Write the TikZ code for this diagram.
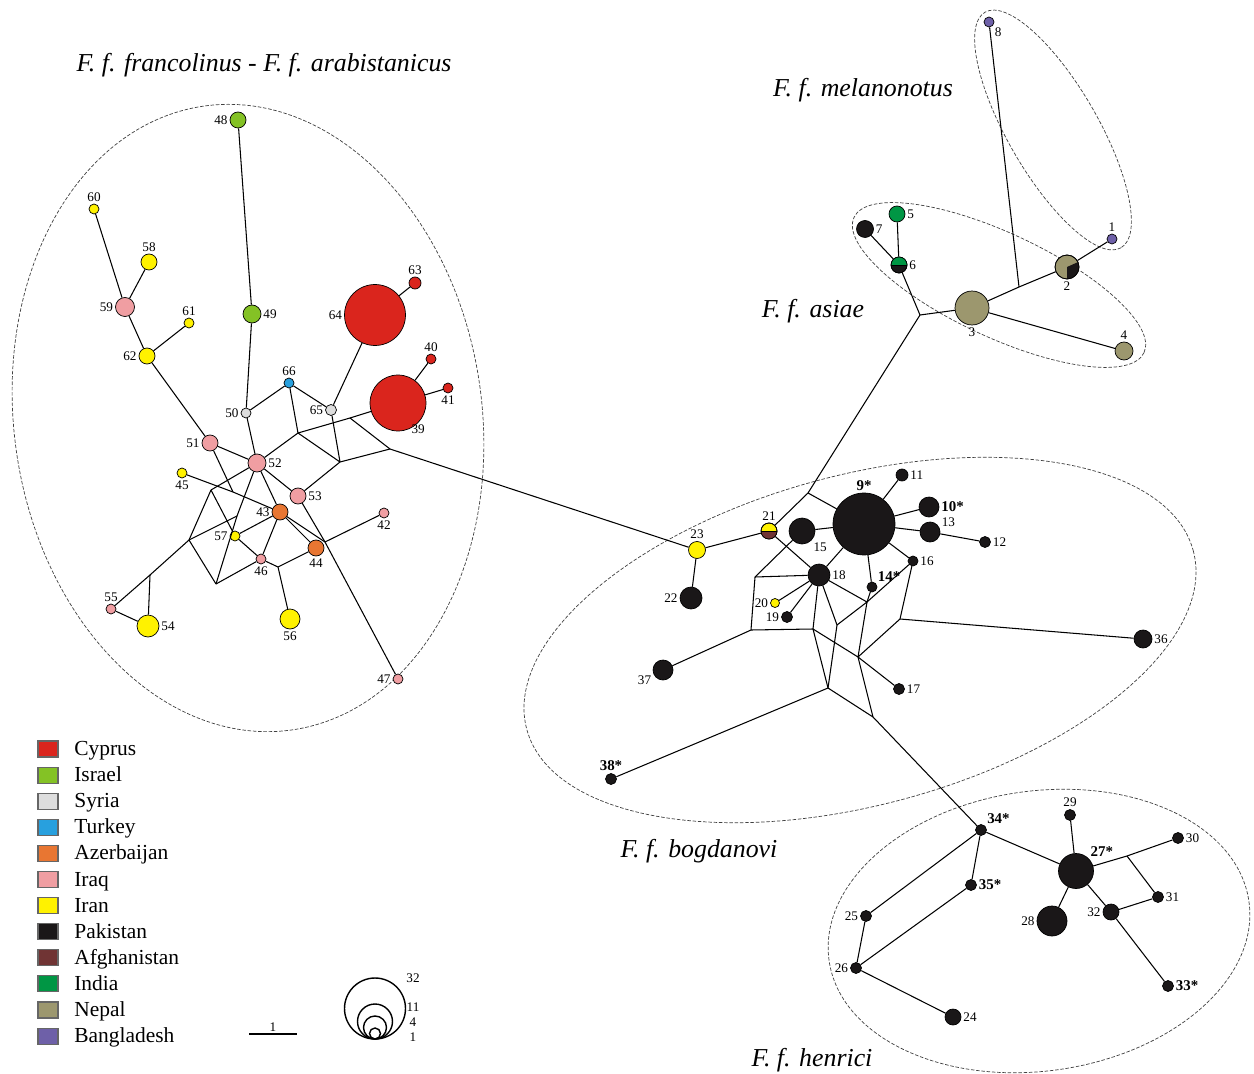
\documentclass[tikz,border=0pt]{standalone}
\usepackage{fontspec}
\setmainfont{Liberation Serif}

\definecolor{cyp}{RGB}{218,37,29}
\definecolor{isr}{RGB}{132,194,37}
\definecolor{syr}{RGB}{221,221,221}
\definecolor{tur}{RGB}{40,160,222}
\definecolor{aze}{RGB}{232,118,50}
\definecolor{irq}{RGB}{240,158,162}
\definecolor{irn}{RGB}{255,242,0}
\definecolor{pak}{RGB}{26,23,24}
\definecolor{afg}{RGB}{112,52,52}
\definecolor{ind}{RGB}{0,150,68}
\definecolor{nep}{RGB}{156,151,110}
\definecolor{ban}{RGB}{110,96,168}

\tikzset{
  hap/.style={circle, draw, line width=0.4pt, inner sep=0pt, fill=#1},
  hs/.style={minimum size=#1*0.04cm},
  num/.style={font=\fontsize{7.5}{9}\selectfont, inner sep=1pt},
  bnum/.style={font=\fontsize{8.5}{10}\selectfont\bfseries, inner sep=1pt},
  edge/.style={line width=0.6pt},
  grp/.style={dash pattern=on 2pt off 1pt, line width=0.4pt, black!75},
  title/.style={font=\fontsize{14.7}{17}\selectfont\itshape},
  legbox/.style={draw=black!60, line width=0.6pt, minimum width=0.4cm, minimum height=0.32cm, inner sep=0pt},
  legtxt/.style={font=\fontsize{12.2}{14}\selectfont, anchor=base west, inner sep=0pt}
}

\begin{document}
\begin{tikzpicture}[x=0.02cm, y=-0.02cm]
\useasboundingbox (0,0) rectangle (1254,1074);

\draw[grp, rotate around={8:(248,418)}] (248,418) ellipse [x radius=234, y radius=315];
\draw[grp, rotate around={15:(860,640)}] (860,640) ellipse [x radius=345, y radius=165];
\draw[grp, rotate around={-25:(999,285)}] (999,285) ellipse [x radius=160, y radius=52];
\draw[grp, rotate around={-60:(1053,130)}] (1053,130) ellipse [x radius=136, y radius=45];
\draw[grp, rotate around={8:(1039,931)}] (1039,931) ellipse [x radius=212, y radius=140];

\node[title] (tfran) at (264,65) {F. f. francolinus - F. f. arabistanicus};
\node[title] (tmel) at (863,90) {F. f. melanonotus};
\node[title] (tasi) at (813,311) {F. f. asiae};
\node[title] (tbog) at (699,851) {F. f. bogdanovi};
\node[title] (then) at (812,1060) {F. f. henrici};

% francolinus - arabistanicus
\node[hap=isr, hs=8, label={[num]left:48}] (h48) at (238,120) {};
\node[hap=isr, hs=9, label={[num]right:49}] (h49) at (252,314) {};
\node[hap=irn, hs=5, label={[num]above:60}] (h60) at (94,209) {};
\node[hap=irn, hs=8, label={[num]above:58}] (h58) at (149,262) {};
\node[hap=irq, hs=9.5, label={[num]left:59}] (h59) at (125,307) {};
\node[hap=irn, hs=5, label={[num]above:61}] (h61) at (189,323) {};
\node[hap=irn, hs=8, label={[num]left:62}] (h62) at (147,356) {};
\node[hap=cyp, hs=30.5, label={[num]left:64}] (h64) at (375,315) {};
\node[hap=cyp, hs=6, label={[num]above:63}] (h63) at (415,283) {};
\node[hap=cyp, hs=5, label={[num]above:40}] (h40) at (431,359) {};
\node[hap=cyp, hs=28, label={[num, label distance=-3pt]-60:39}] (h39) at (398,403) {};
\node[hap=cyp, hs=5, label={[num]below:41}] (h41) at (448,388) {};
\node[hap=tur, hs=5, label={[num]above:66}] (h66) at (289,383) {};
\node[hap=syr, hs=5, label={[num]left:50}] (h50) at (246,413) {};
\node[hap=syr, hs=5.5, label={[num]left:65}] (h65) at (331,410) {};
\node[hap=irq, hs=8, label={[num]left:51}] (h51) at (210,443) {};
\node[hap=irq, hs=9, label={[num]right:52}] (h52) at (257,463) {};
\node[hap=irn, hs=5, label={[num]below:45}] (h45) at (182,473) {};
\node[hap=irq, hs=8, label={[num]right:53}] (h53) at (298,496) {};
\node[hap=aze, hs=8, label={[num]left:43}] (h43) at (280,512) {};
\node[hap=irq, hs=5, label={[num]below:42}] (h42) at (384,513) {};
\node[hap=irn, hs=5, label={[num]left:57}] (h57) at (235,536) {};
\node[hap=aze, hs=8, label={[num]below:44}] (h44) at (316,548) {};
\node[hap=irq, hs=5, label={[num]below:46}] (h46) at (261,559) {};
\node[hap=irn, hs=10, label={[num]below:56}] (h56) at (290,619) {};
\node[hap=irq, hs=5, label={[num]above:55}] (h55) at (111,609) {};
\node[hap=irn, hs=11, label={[num]right:54}] (h54) at (148,626) {};
\node[hap=irq, hs=5, label={[num]left:47}] (h47) at (398,679) {};

\coordinate (a1) at (298,433);
\coordinate (a2) at (340,462);
\coordinate (a3) at (350,418);
\coordinate (a4) at (390,449);
\coordinate (a5) at (325,542);
\coordinate (a6) at (278,567);
\coordinate (a7) at (233,492);
\coordinate (a8) at (211,490);
\coordinate (a9) at (189,540);
\coordinate (a10) at (216,584);
\coordinate (a11) at (237,516);
\coordinate (a12) at (150,575);

% bogdanovi
\node[hap=pak, hs=31, label={[bnum]above:9*}] (h9) at (864,524) {};
\node[hap=pak, hs=6, label={[num]right:11}] (h11) at (902,475) {};
\node[hap=pak, hs=10, label={[bnum]right:10*}] (h10) at (929,507) {};
\node[hap=pak, hs=10, label={[num]20:13}] (h13) at (930,532) {};
\node[hap=pak, hs=5.5, label={[num]right:12}] (h12) at (985,542) {};
\node[hap=pak, hs=5, label={[num]right:16}] (h16) at (913,561) {};
\node[hap=pak, hs=5, label={[bnum]above right:14*}] (h14) at (872,587) {};
\node[hap=pak, hs=13, label={[num]below right:15}] (h15) at (802,531) {};
\node[hap=pak, hs=11, label={[num]right:18}] (h18) at (819,575) {};
\node[hap=irn, hs=8, label={[num]above:21}] (h21) at (769,531) {};
\node[hap=irn, hs=8.5, label={[num]above:23}] (h23) at (697,550) {};
\node[hap=pak, hs=11, label={[num]left:22}] (h22) at (691,598) {};
\node[hap=irn, hs=4.5, label={[num]left:20}] (h20) at (775,603) {};
\node[hap=pak, hs=5.5, label={[num]left:19}] (h19) at (787,617) {};
\node[hap=pak, hs=5.5, label={[num]right:17}] (h17) at (899,689) {};
\node[hap=pak, hs=9, label={[num]right:36}] (h36) at (1143,639) {};
\node[hap=pak, hs=10, label={[num]-160:37}] (h37) at (663,670) {};
\node[hap=pak, hs=5.5, label={[bnum]above:38*}] (h38) at (611,779) {};

\fill[afg] (h21.east) arc[start angle=0, end angle=-180, radius=0.16cm] -- cycle;
\draw[line width=0.4pt] (h21.west) -- (h21.east);
\draw[line width=0.4pt] (h21.center) circle[radius=0.16cm];

\coordinate (b1) at (808,493);
\coordinate (b2) at (755,577);
\coordinate (b3) at (751,630);
\coordinate (b4) at (813,629);
\coordinate (b5) at (837,625);
\coordinate (b6) at (867,602);
\coordinate (b7) at (858,657);
\coordinate (b8) at (900,619);
\coordinate (b9) at (828,688);
\coordinate (b10) at (873,717);

% asiae, melanonotus
\node[hap=ban, hs=5, label={[num]below right:8}] (h8) at (989,22) {};
\node[hap=ban, hs=5, label={[num]above:1}] (h1) at (1112,239) {};
\node[hap=ind, hs=8, label={[num]right:5}] (h5) at (897,214) {};
\node[hap=pak, hs=8.5, label={[num]right:7}] (h7) at (865,229) {};
\node[hap=pak, hs=8, label={[num]right:6}] (h6) at (899,265) {};
\node[hap=nep, hs=12, label={[num]below:2}] (h2) at (1067,267) {};
\node[hap=nep, hs=17, label={[num]below:3}] (h3) at (972,308) {};
\node[hap=nep, hs=9, label={[num]above:4}] (h4) at (1124,351) {};

\fill[ind] (h6.east) arc[start angle=0, end angle=180, radius=0.16cm] -- cycle;
\draw[line width=0.4pt] (h6.west) -- (h6.east);
\draw[line width=0.4pt] (h6.center) circle[radius=0.16cm];
\fill[pak] (h2.center) -- ++(24:0.24cm) arc[start angle=24, end angle=-90, radius=0.24cm] -- cycle;
\draw[line width=0.4pt] (h2.center) circle[radius=0.24cm];

\coordinate (c1) at (920,315);
\coordinate (c2) at (1019,287);

% henrici
\node[hap=pak, hs=5.5, label={[bnum]above right:34*}] (h34) at (981,830) {};
\node[hap=pak, hs=5.5, label={[num]above:29}] (h29) at (1070,815) {};
\node[hap=pak, hs=17.5, label={[bnum]above right:27*}] (h27) at (1076,871) {};
\node[hap=pak, hs=5.5, label={[num]right:30}] (h30) at (1178,838) {};
\node[hap=pak, hs=5.5, label={[num]right:31}] (h31) at (1158,897) {};
\node[hap=pak, hs=8, label={[num]left:32}] (h32) at (1111,912) {};
\node[hap=pak, hs=15, label={[num]left:28}] (h28) at (1052,921) {};
\node[hap=pak, hs=5.5, label={[bnum]right:33*}] (h33) at (1168,986) {};
\node[hap=pak, hs=5.5, label={[bnum]right:35*}] (h35) at (971,885) {};
\node[hap=pak, hs=5.5, label={[num]left:25}] (h25) at (866,916) {};
\node[hap=pak, hs=5.5, label={[num]left:26}] (h26) at (856,968) {};
\node[hap=pak, hs=8, label={[num]right:24}] (h24) at (953,1017) {};

\coordinate (d1) at (1127,856);

\foreach \a/\b in {h48/h49, h49/h50, h50/h66, h66/h65, h50/h52, h60/h59, h58/h59,
    h59/h62, h61/h62, h62/h51, h51/h52, h64/h63, h64/h65, h39/h40, h39/h41,
    h66/a1, a1/h52, a1/a2, h65/a2, a1/a3, a3/h39, a3/a4, a2/a4, a4/h23,
    a2/h53, h52/h53, h52/h43, h53/a5, a5/h47, h43/a5, a5/h42, h43/h44,
    h44/a6, a6/h56, a6/h46, h43/h46, h43/h57, h57/h46, h45/a7, a7/h43,
    h51/a7, h52/a8, a8/a9, a8/h57, a9/a11, a11/h52, a11/a10, a9/a10,
    a10/h46, a9/a12, a12/h55, a12/h54, h55/h54}
  \draw[edge] (\a) -- (\b);

\foreach \a/\b in {c1/b1, b1/h21, b1/h9, h23/h21, h21/h18, h23/h22, h15/h9,
    h15/b2, b2/h18, b2/b3, b3/b4, b3/h37, h18/h20, h18/h19, h18/b4, h18/b5,
    h18/b6, b5/b6, b6/h16, h14/b6, h9/h14, b6/b7, b4/b9, b5/b9, b4/b7,
    b7/h17, b7/b8, b8/h16, b8/h36, b9/b10, b7/b10, b9/h38, b10/h34,
    h9/h11, h9/h10, h9/h13, h13/h12, h9/h16, h9/h18}
  \draw[edge] (\a) -- (\b);

\foreach \a/\b in {h8/c2, h3/c2, c2/h2, h2/h1, h3/h4, c1/h3, h6/c1, h7/h6, h5/h6,
    h34/h27, h34/h25, h34/h35, h35/h26, h25/h26, h26/h24, h29/h27, h27/d1,
    d1/h30, d1/h31, h31/h32, h27/h32, h32/h33, h27/h28}
  \draw[edge] (\a) -- (\b);

% legend
\foreach \c/\t [count=\i from 0] in {cyp/Cyprus, isr/Israel, syr/Syria, tur/Turkey,
    aze/Azerbaijan, irq/Iraq, irn/Iran, pak/Pakistan, afg/Afghanistan,
    ind/India, nep/Nepal, ban/Bangladesh}
{
  \node[legbox, fill=\c] (box\i) at (48,749+26.1*\i) {};
  \node[legtxt] (lab\i) at (74,755.5+26.1*\i) {\t};
}

\coordinate (bar0) at (249,1034);
\coordinate (bar1) at (297,1034);
\draw[line width=1pt] (bar0) -- node[num, above] (barlab) {1} (bar1);

\node[circle, draw, line width=0.8pt, inner sep=0pt, minimum size=1.22cm] (ring32) at (375,1008.5) {};
\node[circle, draw, line width=0.8pt, inner sep=0pt, minimum size=0.70cm] (ring11) at (375,1021.5) {};
\node[circle, draw, line width=0.8pt, inner sep=0pt, minimum size=0.46cm] (ring4) at (375,1027.5) {};
\node[circle, draw, line width=0.8pt, inner sep=0pt, minimum size=0.22cm] (ring1) at (375,1033.5) {};
\node[num] (n32) at (413,978) {32};
\node[num] (n11) at (413,1007) {11};
\node[num] (n4) at (413,1022) {4};
\node[num] (n1) at (413,1037) {1};
\end{tikzpicture}
\end{document}
